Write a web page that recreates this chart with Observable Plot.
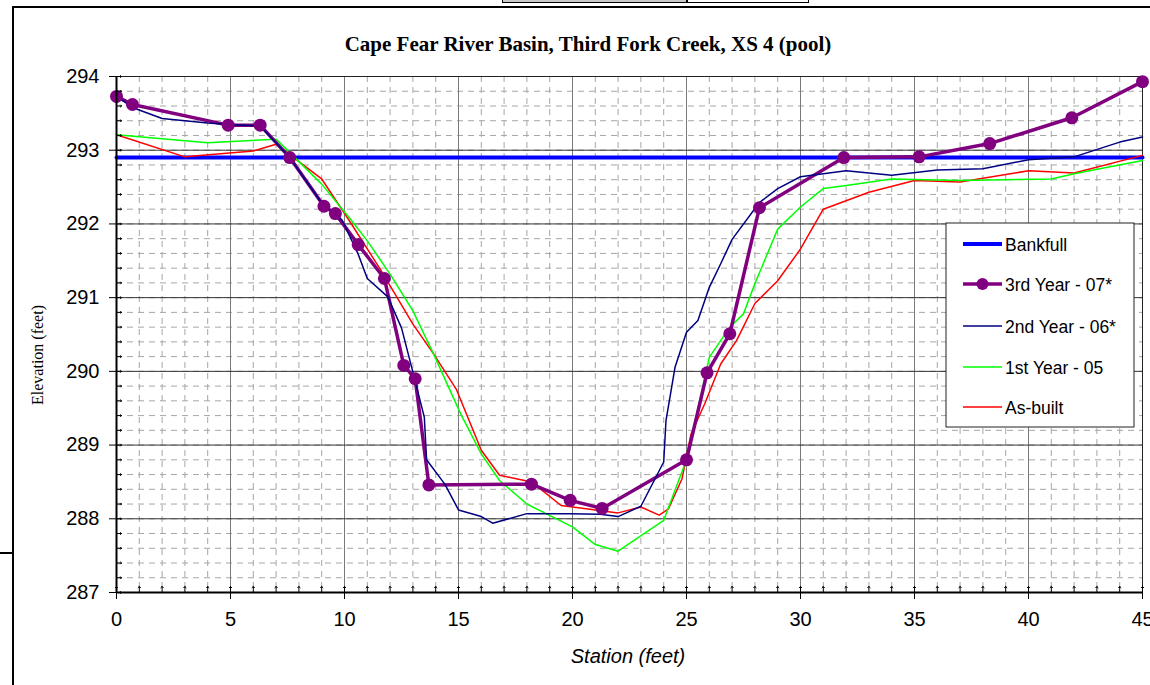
<!DOCTYPE html>
<html>
<head>
<meta charset="utf-8">
<script src="https://cdn.jsdelivr.net/npm/d3@7"></script>
<script src="https://cdn.jsdelivr.net/npm/@observablehq/plot@0.6"></script>
<style>
  body { margin: 0; background: #fff; }
  #chart { position: relative; width: 1150px; height: 685px; overflow: hidden; background: #fff;
           font-family: Arial, "Liberation Sans", sans-serif; }
  #chart svg { position: absolute; left: 0; top: 0; }
  .frame { position: absolute; left: 12px; top: 6px; width: 1200px; height: 760px;
           border-left: 2px solid #000; border-top: 2px solid #000; box-sizing: border-box; }
  .stub { position: absolute; left: 0; top: 552px; width: 12px; border-top: 2px solid #000; }
  .tab1 { position: absolute; left: 502px; top: -4px; width: 185px; height: 7px;
          background: #c8c8c8; border: 1.5px solid #000; box-sizing: border-box; }
  .tab2 { position: absolute; left: 687px; top: -4px; width: 122px; height: 7px;
          background: #fff; border: 1.5px solid #000; box-sizing: border-box; }
  .title { position: absolute; left: 0; width: 1176px; top: 32px; text-align: center;
           font-family: "Liberation Serif", "DejaVu Serif", serif; font-weight: bold; font-size: 21px; }
  .ylabel { position: absolute; left: 38px; top: 355px; transform: translate(-50%, -50%) rotate(-90deg);
            white-space: nowrap; font-family: "Liberation Serif", "DejaVu Serif", serif; font-size: 16px; }
  .xlabel { position: absolute; left: 0; width: 1256px; top: 645px; text-align: center;
            font-style: italic; font-size: 20px; }
</style>
</head>
<body>
<div id="chart">
  <div class="frame"></div>
  <div class="stub"></div>
  <div class="tab1"></div>
  <div class="tab2"></div>
</div>
<script>
// Cross-section survey, Third Fork Creek XS 4 (pool): station (ft) vs elevation (ft)

const bankfullStation = [0, 45];
const bankfullElevation = [292.9, 292.9];

const year3Station = [0, 0.7, 4.9, 6.3, 7.6, 9.1, 9.6, 10.6, 11.75, 12.6, 13.1, 13.7,
  18.2, 19.9, 21.3, 25.0, 25.9, 26.9, 28.2, 31.9, 35.2, 38.3, 41.9, 45.0];
const year3Elevation = [293.73, 293.62, 293.34, 293.34, 292.9, 292.24, 292.14, 291.72, 291.26, 290.08, 289.9, 288.46,
  288.47, 288.25, 288.14, 288.8, 289.98, 290.51, 292.22, 292.9, 292.91, 293.09, 293.44, 293.93];

const year2Station = [0, 0.7, 2, 4, 4.9, 6.3, 7.6, 9.1, 9.6, 9.9, 10.6, 11.0, 11.9, 12.5, 13.0, 13.5, 13.6,
  14.4, 15.0, 16.0, 16.5, 18.0, 19.9, 21.2, 22.0, 23.0, 24.0, 24.1, 24.5, 25.0, 25.5, 26.0, 26.5, 27.0,
  28.2, 29.0, 30.0, 32.0, 34.0, 36.0, 38.0, 40.0, 42.0, 44.0, 45.0];
const year2Elevation = [293.73, 293.58, 293.43, 293.37, 293.35, 293.33, 292.9, 292.24, 292.14, 292.05, 291.59, 291.26, 291.01, 290.59, 289.99, 289.38, 288.8,
  288.47, 288.12, 288.03, 287.94, 288.07, 288.07, 288.06, 288.03, 288.17, 288.77, 289.33, 290.06, 290.53, 290.69, 291.14, 291.46, 291.79,
  292.29, 292.48, 292.64, 292.72, 292.66, 292.73, 292.75, 292.87, 292.91, 293.11, 293.18];

const year1Station = [0, 4, 7, 9, 10.3, 11, 12, 13, 13.9, 15.1, 16, 16.8, 18, 20, 21, 22, 24, 25,
  26, 26.9, 27.5, 28, 29, 30, 31, 32, 34, 37, 41, 42, 45];
const year1Elevation = [293.21, 293.1, 293.15, 292.54, 292.05, 291.77, 291.32, 290.82, 290.24, 289.42, 288.88, 288.52, 288.2, 287.89, 287.65, 287.56, 287.98, 288.8,
  290.19, 290.6, 290.78, 291.19, 291.93, 292.23, 292.48, 292.52, 292.61, 292.59, 292.61, 292.68, 292.86];

const asBuiltStation = [0, 3, 6, 7, 9, 10.2, 11.6, 13, 13.9, 14.9, 16, 16.8, 18.2, 19.5, 22, 23, 23.8, 24.2,
  24.8, 25.2, 25.8, 26.5, 27.2, 28, 29, 30, 31, 33, 35, 37, 40, 42, 45];
const asBuiltElevation = [293.21, 292.91, 292.99, 293.08, 292.61, 292.05, 291.37, 290.64, 290.24, 289.76, 288.93, 288.59, 288.5, 288.18, 288.08, 288.16, 288.05, 288.13,
  288.54, 289.15, 289.56, 290.1, 290.42, 290.92, 291.23, 291.66, 292.2, 292.43, 292.59, 292.57, 292.72, 292.69, 292.93];

const xMajorTicks = [0, 5, 10, 15, 20, 25, 30, 35, 40, 45];
const yMajorTicks = [287, 288, 289, 290, 291, 292, 293, 294];
const xMinorTicks = d3.range(0, 46, 1);
const yMinorTicks = d3.range(0, 36).map(i => 287 + i * 0.2);

const seriesNames = ["Bankfull", "3rd Year - 07*", "2nd Year - 06*", "1st Year - 05", "As-built"];
const seriesColors = ["#0000ff", "#800080", "#000080", "#00ff00", "#ff0000"];

const rows = (st, el) => st.map((s, i) => ({station: s, elevation: el[i]}));
const bankfull = rows(bankfullStation, bankfullElevation);
const year3 = rows(year3Station, year3Elevation);
const year2 = rows(year2Station, year2Elevation);
const year1 = rows(year1Station, year1Elevation);
const asBuilt = rows(asBuiltStation, asBuiltElevation);

const xy = {x: "station", y: "elevation"};
const intFormat = d3.format("d");

const plot = Plot.plot({
  width: 1150,
  height: 685,
  marginLeft: 116,
  marginRight: 8,
  marginTop: 76,
  marginBottom: 93,
  x: {domain: [0, 45]},
  y: {domain: [287, 294]},
  style: {fontFamily: "Arial, 'Liberation Sans', sans-serif", fontSize: "20px", color: "#000", background: "transparent", overflow: "visible"},
  marks: [
    // minor dashed grid
    Plot.gridX(xMinorTicks, {stroke: "#a6a6a6", strokeOpacity: 1, strokeWidth: 1, strokeDasharray: "6,5"}),
    Plot.gridY(yMinorTicks, {stroke: "#a6a6a6", strokeOpacity: 1, strokeWidth: 1, strokeDasharray: "6,5"}),
    // major solid grid
    Plot.gridX(xMajorTicks, {stroke: "#7a7a7a", strokeOpacity: 1, strokeWidth: 1}),
    Plot.gridY(yMajorTicks, {stroke: "#333", strokeOpacity: 1, strokeWidth: 1}),
    Plot.frame({stroke: "#222", strokeWidth: 1}),
    // survey lines
    Plot.line(bankfull, {...xy, stroke: seriesColors[0], strokeWidth: 4}),
    Plot.line(asBuilt, {...xy, stroke: seriesColors[4], strokeWidth: 1.5}),
    Plot.line(year1, {...xy, stroke: seriesColors[3], strokeWidth: 1.5}),
    Plot.line(year3, {...xy, stroke: seriesColors[1], strokeWidth: 3.5}),
    Plot.line(year2, {...xy, stroke: seriesColors[2], strokeWidth: 1.5}),
    Plot.dot(year3, {...xy, r: 6.5, fill: seriesColors[1], stroke: "none"}),
    // axes
    Plot.axisX(xMajorTicks, {tickSize: 7, tickPadding: 12, fontSize: 20, label: null, stroke: "#000", tickFormat: intFormat}),
    Plot.axisY(yMajorTicks, {tickSize: 7, tickPadding: 10, fontSize: 20, label: null, stroke: "#000", tickFormat: intFormat}),
    Plot.vector(xMinorTicks, {x: d => d, frameAnchor: "bottom", length: 6, rotate: 0, anchor: "start", stroke: "#000", strokeWidth: 1}),
    Plot.vector(yMinorTicks, {y: d => d, frameAnchor: "left", length: 5, rotate: 90, anchor: "start", stroke: "#000", strokeWidth: 1}),
    Plot.ruleX([0], {stroke: "#000", strokeWidth: 2}),
    Plot.ruleY([287], {stroke: "#000", strokeWidth: 2})
  ]
});

const chart = document.getElementById("chart");
chart.appendChild(plot);

const title = document.createElement("div");
title.className = "title";
title.textContent = "Cape Fear River Basin, Third Fork Creek, XS 4 (pool)";
chart.appendChild(title);

const ylab = document.createElement("div");
ylab.className = "ylabel";
ylab.textContent = "Elevation (feet)";
chart.appendChild(ylab);

const xlab = document.createElement("div");
xlab.className = "xlabel";
xlab.textContent = "Station (feet)";
chart.appendChild(xlab);

// legend box
const legend = d3.create("svg")
  .attr("width", 190).attr("height", 206)
  .style("left", "945px").style("top", "222px");
legend.append("rect")
  .attr("x", 1).attr("y", 1).attr("width", 188).attr("height", 204)
  .attr("fill", "#fff").attr("stroke", "#222").attr("stroke-width", 1);
const rowY = [22, 62, 104, 145, 185];
const widths = [4, 3.5, 1.5, 1.5, 1.5];
seriesNames.forEach((name, i) => {
  const g = legend.append("g").attr("transform", `translate(0,${rowY[i]})`);
  g.append("line").attr("x1", 18).attr("x2", 57).attr("y1", 0).attr("y2", 0)
    .attr("stroke", seriesColors[i]).attr("stroke-width", widths[i]);
  if (i === 1) g.append("circle").attr("cx", 37.5).attr("cy", 0).attr("r", 6).attr("fill", seriesColors[i]);
  g.append("text").attr("x", 60).attr("y", 6.5)
    .attr("font-family", "Arial, 'Liberation Sans', sans-serif").attr("font-size", 17.5)
    .attr("fill", "#000").text(name);
});
chart.appendChild(legend.node());
</script>
</body>
</html>
